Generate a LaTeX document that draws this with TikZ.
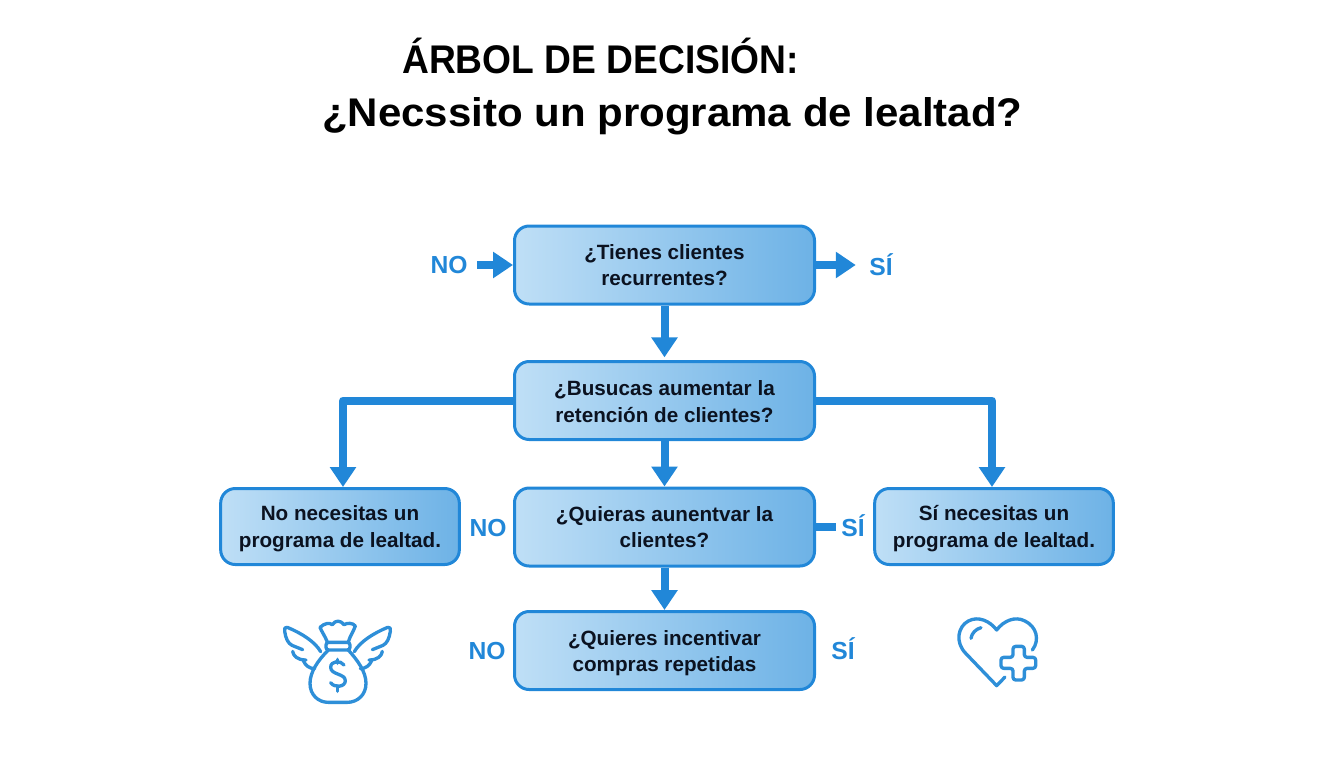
\documentclass[tikz,border=0pt]{standalone}
\usepackage{fontspec}
\setmainfont{Liberation Sans}
\newfontfamily\titlef[FakeStretch=0.93]{Liberation Sans}
\newfontfamily\titleg[FakeStretch=1.05]{Liberation Sans}
\usetikzlibrary{arrows.meta}
\definecolor{flowblue}{HTML}{2187D8}
\definecolor{boxlight}{HTML}{BFDFF6}
\definecolor{boxdark}{HTML}{6DB2E6}
\definecolor{inktext}{HTML}{0B1220}
\definecolor{iconblue}{HTML}{2E8FD8}
\newcommand{\lowerline}{\rule{0pt}{15pt}}
\tikzset{
  qbox/.style={draw=flowblue,line width=2.25pt,rounded corners=11pt,left color=boxlight,right color=boxdark,
    minimum width=225pt,minimum height=58.5pt,inner sep=0pt,align=center,text=inktext,
    font=\fontsize{15.5pt}{20pt}\selectfont\bfseries},
  endbox/.style={qbox,minimum width=179pt,minimum height=57pt},
  branch/.style={text=flowblue,font=\fontsize{18.5pt}{20pt}\selectfont\bfseries,inner sep=0pt},
  conn/.style={draw=flowblue,line width=6pt,line join=round,-{Triangle[length=15pt,width=19pt]}},
  stub/.style={draw=flowblue,line width=6pt},
  icon/.style={draw=iconblue,line width=2.5pt,line cap=round,line join=round},
  titletext/.style={text=black,inner sep=0pt,anchor=base west}
}
\begin{document}
\begin{tikzpicture}[x=0.75pt,y=-0.75pt]
\useasboundingbox (0,0) rectangle (1344,768);
\node[titletext,font=\titlef\fontsize{30pt}{32pt}\selectfont\bfseries] (t1) at (402,73) {ÁRBOL DE DECISIÓN:};
\node[titletext,font=\titleg\fontsize{30pt}{32pt}\selectfont\bfseries] (t2) at (322,126) {¿Necssito un programa de lealtad?};

\node[qbox] (q1) at (664.5,265) {¿Tienes clientes\\recurrentes?};
\node[qbox] (q2) at (664.5,400.5) {\rule{0pt}{13pt}¿Busucas aumentar la\\retención de clientes?};
\node[qbox] (q3) at (664.5,527) {¿Quieras aunentvar la\\clientes?};
\node[qbox] (q4) at (664.5,650.5) {\lowerline ¿Quieres incentivar\\compras repetidas};
\node[endbox] (no) at (340,526.5) {\lowerline No necesitas un\\programa de lealtad.};
\node[endbox] (si) at (994,526.5) {\lowerline Sí necesitas un\\programa de lealtad.};

\node[branch] (n1) at (449,265) {NO};
\node[branch] (s1) at (881,265) {SÍ};
\node[branch] (n3) at (488,528) {NO};
\node[branch] (s3) at (853,526) {SÍ};
\node[branch] (n4) at (487,651) {NO};
\node[branch] (s4) at (843,649) {SÍ};

\draw[conn,shorten <=7pt] (n1) -- (q1.west);
\draw[conn,shorten >=10pt] (q1.east) -- (s1.west);
\draw[conn,shorten >=2pt] (q1.south) -- (q2.north);
\draw[conn] (q2.south) -- (q3.north);
\draw[conn] (q3.south) -- (q4.north);
\draw[stub,shorten >=4pt] (q3.east) -- (s3.west |- q3.east);
\coordinate (elbowL) at ([xshift=2.25pt]no.north);
\coordinate (elbowR) at ([xshift=-1.5pt]si.north);
\draw[conn] (q2.west) -| (elbowL);
\draw[conn] (q2.east) -| (elbowR);

% money bag with wings
\begin{scope}[shift={(270,610)},scale=1/3]
  \draw[icon] (172,96) .. controls (165,78) and (155,65) .. (150,52)
     .. controls (165,38) and (180,38) .. (187,44)
     .. controls (195,30) and (212,30) .. (222,44)
     .. controls (232,38) and (248,38) .. (256,48)
     .. controls (250,65) and (240,78) .. (235,96);
  \draw[icon,rounded corners=2pt] (168,97) rectangle (240,120);
  \draw[icon] (175,120) .. controls (145,150) and (120,185) .. (120,220)
     .. controls (120,255) and (145,277) .. (175,277)
     -- (232,277) .. controls (262,277) and (288,255) .. (288,220)
     .. controls (288,185) and (262,150) .. (235,120);
  \draw[icon] (222,165) .. controls (212,150) and (182,152) .. (182,172)
     .. controls (182,195) and (226,190) .. (226,212)
     .. controls (226,232) and (192,234) .. (182,218);
  \draw[icon] (203,148) -- (203,160) (203,232) -- (203,244);
  \foreach \mirror/\off in {1/0,-1/405}{
  \begin{scope}[shift={(\off,0)},xscale=\mirror]
    \draw[icon] (152,125) .. controls (135,95) and (95,70) .. (52,52)
       .. controls (44,50) and (42,56) .. (44,64)
       .. controls (47,85) and (54,100) .. (66,106)
       -- (98,119);
    \draw[icon] (68,124) .. controls (70,138) and (82,150) .. (108,150);
    \draw[icon] (100,152) .. controls (106,166) and (118,176) .. (134,176);
  \end{scope}}
\end{scope}

% heart with plus
\begin{scope}[shift={(945,605)},scale=1/3]
  \draw[icon] (180,216) -- (155,242) -- (62,145)
     .. controls (30,112) and (38,65) .. (70,48)
     .. controls (100,32) and (135,48) .. (155,75)
     .. controls (175,48) and (210,32) .. (240,48)
     .. controls (275,65) and (285,105) .. (262,135);
  \draw[icon] (78,100) .. controls (80,85) and (92,72) .. (108,68);
  \draw[icon,rounded corners=2pt] (204,124) -- (238,124) -- (238,157) -- (272,157) -- (272,190)
     -- (238,190) -- (238,225) -- (204,225) -- (204,190) -- (168,190) -- (168,157) -- (204,157) -- cycle;
\end{scope}
\end{tikzpicture}
\end{document}
